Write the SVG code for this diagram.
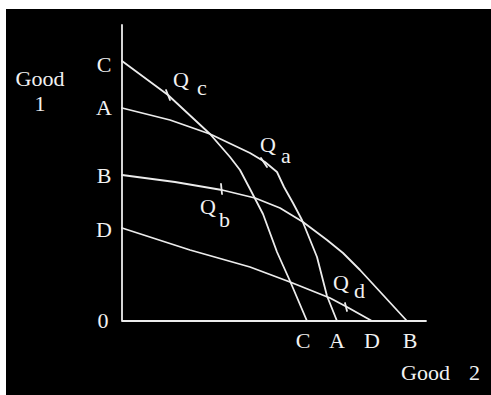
<svg xmlns="http://www.w3.org/2000/svg" width="491" height="395" viewBox="0 0 491 395">
<style>
.ln{fill:none;stroke:#ececec;stroke-width:1.8;stroke-linejoin:round;stroke-linecap:round}
.t{font-family:"Liberation Serif","Times New Roman",serif;font-size:22px;fill:#f2f2f2}
.m{text-anchor:middle}
</style>
<rect x="0" y="0" width="491" height="395" fill="#ffffff"/>
<rect x="6" y="9" width="485" height="386" fill="#000000"/>
<g id="axes">
<polyline class="ln" points="122,25 122,321 426,321"/>
</g>
<g id="curves">
<polyline id="curve-c" class="ln" points="122,61 168,95 210,134 230,157 240,170 250,189 263,214 277,252 290,281 307,321"/>
<polyline id="curve-a" class="ln" points="122,108 170,120 210,134 250,153 265,162 277,172 284,187 293,203 302,220 317,257 327,296 337,321"/>
<polyline id="curve-b" class="ln" points="122,175 175,182 222,190 255,198 280,208 303,222 327,240 343,253 360,270 407,321"/>
<polyline id="curve-d" class="ln" points="122,228 190,250 250,267 290,282 330,298 347,307 372,321"/>
<line class="ln" x1="166" y1="90" x2="170" y2="100"/>
<line class="ln" x1="261" y1="158" x2="267" y2="167"/>
<line class="ln" x1="221" y1="184" x2="222" y2="194"/>
<line class="ln" x1="345" y1="303" x2="347" y2="311"/>
</g>
<g id="labels-y">
<text class="t m" x="104" y="72">C</text>
<text class="t m" x="104" y="115">A</text>
<text class="t m" x="104" y="183">B</text>
<text class="t m" x="104" y="237">D</text>
<text class="t m" x="103" y="328">0</text>
<text class="t m" x="40" y="86">Good</text>
<text class="t m" x="40" y="111">1</text>
</g>
<g id="labels-x">
<text class="t m" x="303" y="348">C</text>
<text class="t m" x="337" y="348">A</text>
<text class="t m" x="372" y="348">D</text>
<text class="t m" x="410" y="348">B</text>
<text class="t" x="401" y="380">Good</text>
<text class="t" x="469" y="380">2</text>
</g>
<g id="labels-q">
<text class="t" x="173" y="87">Q</text><text class="t" x="197" y="95">c</text>
<text class="t" x="260" y="152">Q</text><text class="t" x="281" y="163">a</text>
<text class="t" x="200" y="214">Q</text><text class="t" x="219" y="227">b</text>
<text class="t" x="333" y="290">Q</text><text class="t" x="354" y="298">d</text>
</g>
</svg>
